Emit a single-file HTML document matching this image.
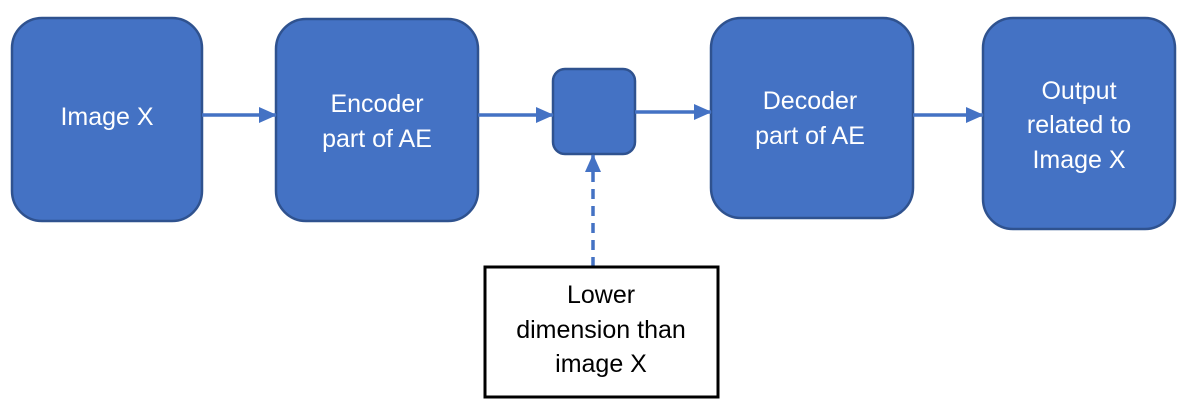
<!DOCTYPE html>
<html><head><style>
body{margin:0;background:#fff;}
svg{display:block;}
text{font-family:"Liberation Sans",sans-serif;font-size:25px;text-anchor:middle;}
</style></head><body>
<svg width="1195" height="413" viewBox="0 0 1195 413">
<defs>
<marker id="b" markerWidth="18" markerHeight="16" refX="17" refY="8" orient="auto" markerUnits="userSpaceOnUse"><path d="M0,0 L18,8 L0,16z" fill="#4472C4"/></marker></defs>
<g fill="#4472C4" stroke="#2F528F" stroke-width="2.5">
<rect x="12" y="18" width="190" height="203" rx="30"/>
<rect x="276" y="19" width="202" height="202" rx="30"/>
<rect x="553" y="69" width="82" height="85" rx="12"/>
<rect x="711" y="18" width="202" height="200" rx="30"/>
<rect x="983" y="18" width="192" height="211" rx="30"/>
</g>
<g stroke="#4472C4" stroke-width="3.5" fill="none">
<line x1="202" y1="115" x2="276" y2="115" marker-end="url(#b)"/>
<line x1="478" y1="115" x2="553" y2="115" marker-end="url(#b)"/>
<line x1="635" y1="112" x2="711" y2="112" marker-end="url(#b)"/>
<line x1="913" y1="115" x2="983" y2="115" marker-end="url(#b)"/>
<line x1="593" y1="267" x2="593" y2="155" stroke-dasharray="10,7" marker-end="url(#b)"/>
</g>
<rect x="485" y="267" width="233" height="130" fill="#fff" stroke="#000" stroke-width="3"/>
<g fill="#fff">
<text x="107" y="125">Image X</text>
<text x="377" y="112">Encoder</text>
<text x="377" y="147">part of AE</text>
<text x="810" y="109">Decoder</text>
<text x="810" y="144">part of AE</text>
<text x="1079" y="99">Output</text>
<text x="1079" y="133">related to</text>
<text x="1079" y="168">Image X</text>
</g>
<g fill="#000">
<text x="601" y="303">Lower</text>
<text x="601" y="338">dimension than</text>
<text x="601" y="372">image X</text>
</g>
</svg>
</body></html>
